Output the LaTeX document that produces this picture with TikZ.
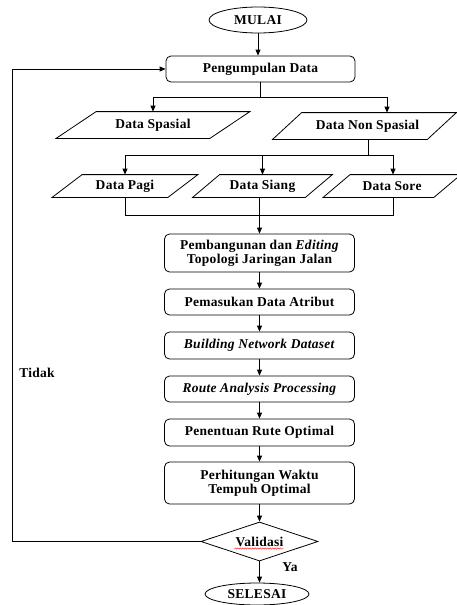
\documentclass[tikz,border=0pt]{standalone}
\usepackage{fontspec}
\setmainfont[LetterSpace=2]{Liberation Serif}
\usetikzlibrary{shapes.geometric,arrows.meta,decorations.pathmorphing}
\begin{document}
\begin{tikzpicture}[x=1pt,y=-1pt,
  line width=0.8pt,
  arr/.style={-{Triangle[length=6pt,width=5pt]}},
  lbl/.style={font=\fontsize{13.5}{14}\selectfont\bfseries},
  box/.style={lbl, draw, rounded corners=5pt, minimum width=190pt, align=center, inner sep=1pt},
  term/.style={lbl, draw, ellipse, inner sep=0pt},
  para/.style={lbl, inner sep=0pt},
  pshape/.style={draw}
]
\useasboundingbox (0,0) rectangle (457,605);

% terminals
\node[term, minimum width=98pt, minimum height=26pt] (mulai) at (258,20) {MULAI};
\node[box, minimum width=189pt, minimum height=26pt] (pd) at (260.5,69) {Pengumpulan Data};

% first data row
\node[para, minimum width=153pt, minimum height=26pt] (ds) at (153,125) {Data Spasial};
\draw[pshape] ([xshift=-20pt]ds.south west) -- ([xshift=-20pt]ds.south east) -- ([xshift=20pt]ds.north east) -- ([xshift=20pt]ds.north west) -- cycle;
\node[para, minimum width=154pt, minimum height=26pt] (dns) at (364.5,126) {\hspace*{6pt}Data Non Spasial};
\draw[pshape] ([xshift=-14.5pt]dns.south west) -- ([xshift=-14.5pt]dns.south east) -- ([xshift=14.5pt]dns.north east) -- ([xshift=14.5pt]dns.north west) -- cycle;

% second data row
\node[para, minimum width=115pt, minimum height=22pt] (dp) at (125,186) {Data Pagi};
\draw[pshape] ([xshift=-15pt]dp.south west) -- ([xshift=-15pt]dp.south east) -- ([xshift=15pt]dp.north east) -- ([xshift=15pt]dp.north west) -- cycle;
\node[para, minimum width=112pt, minimum height=22pt] (dsg) at (262.5,186) {Data Siang};
\draw[pshape] ([xshift=-13.5pt]dsg.south west) -- ([xshift=-13.5pt]dsg.south east) -- ([xshift=13.5pt]dsg.north east) -- ([xshift=13.5pt]dsg.north west) -- cycle;
\node[para, minimum width=110pt, minimum height=22pt] (dso) at (392,186) {Data Sore};
\draw[pshape] ([xshift=-13.5pt]dso.south west) -- ([xshift=-13.5pt]dso.south east) -- ([xshift=13.5pt]dso.north east) -- ([xshift=13.5pt]dso.north west) -- cycle;

% process boxes
\node[box, minimum height=38pt] (pb) at (259.5,253) {Pembangunan dan \textit{Editing}\\Topologi Jaringan Jalan};
\node[box, minimum height=26pt] (pm) at (259.5,302) {Pemasukan Data Atribut};
\node[box, minimum height=27pt] (bn) at (259.5,345.5) {\textit{Building Network Dataset}};
\node[box, minimum height=26pt] (ra) at (259.5,389) {\textit{Route Analysis Processing}};
\node[box, minimum height=27pt] (pr) at (259.5,432.5) {Penentuan Rute Optimal};
\node[box, minimum height=42pt] (pw) at (259.5,483) {Perhitungan Waktu\\Tempuh Optimal};
\node[lbl, draw, diamond, aspect=3, inner sep=0pt, minimum width=117pt, minimum height=39pt] (val) at (259.5,541.5) {Validasi};
\draw[red, line width=0.4pt, decorate, decoration={snake, amplitude=0.7pt, segment length=2.5pt}]
  ([xshift=-25pt,yshift=-7pt]val.center) -- ([xshift=24pt,yshift=-7pt]val.center);
\node[term, minimum width=104pt, minimum height=22pt] (sel) at (257,594) {SELESAI};

% labels
\node[lbl] (tidak) at (37,373) {Tidak};
\node[lbl] (ya) at (290,567) {Ya};

% connectors
\draw[arr] (mulai.south) -- (mulai.south |- pd.north);
\coordinate (b1) at ([yshift=-15pt]pd.south);
\draw (pd.south) -- (b1);
\draw[arr] (b1) -| (ds.north);
\draw[arr] (b1) -| ([xshift=22.5pt]dns.north);

\coordinate (b2) at ([xshift=3.5pt,yshift=-16pt]dns.south);
\draw ([xshift=3.5pt]dns.south) -- (b2);
\draw[arr] (b2) -| (dp.north);
\draw[arr] (b2) -| ([xshift=1pt]dso.north);
\draw[arr] (b2 -| dsg.north) -- (dsg.north);

\coordinate (b3) at ([yshift=-18pt]dp.south);
\draw (dp.south) -- (b3) -| ([xshift=1pt]dso.south);
\draw[arr] (dsg.south -| pb.north) -- (pb.north);

\draw[arr] (pb.south) -- (pm.north);
\draw[arr] (pm.south) -- (bn.north);
\draw[arr] (bn.south) -- (ra.north);
\draw[arr] (ra.south) -- (pr.north);
\draw[arr] (pr.south) -- (pw.north);
\draw[arr] (pw.south) -- (val.north);
\draw[arr] (val.south) -- (val.south |- sel.north);

\coordinate (fb) at (12,0);
\draw[arr] (val.west) -- (val.west -| fb) |- (pd.west);
\end{tikzpicture}
\end{document}
